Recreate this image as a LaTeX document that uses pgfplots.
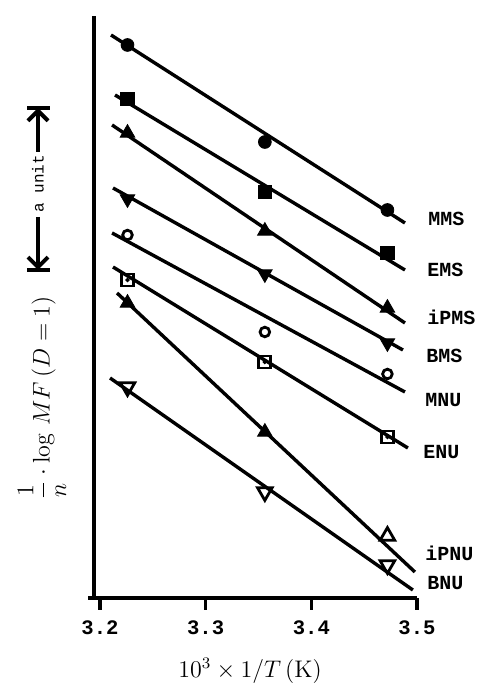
\documentclass[border=0pt]{standalone}
\usepackage{fontspec}
\setmonofont{Liberation Mono}
\usepackage{amsmath}
\usepackage{pgfplots}
\pgfplotsset{compat=1.18}
\usetikzlibrary{arrows.meta}
\begin{document}
\begin{tikzpicture}
\useasboundingbox (0,0) rectangle (238pt,344pt);
\begin{axis}[
  at={(47pt,45pt)}, anchor=south west,
  scale only axis, width=161.5pt, height=291pt,
  xmin=3.1943, xmax=3.5, ymin=90, ymax=672,
  axis x line*=bottom, axis y line*=left,
  axis line style={line width=1.8pt,-},
  xtick={3.2,3.3,3.4,3.5},
  xticklabels={\texttt{\bfseries 3.2},\texttt{\bfseries 3.3},\texttt{\bfseries 3.4},\texttt{\bfseries 3.5}},
  xticklabel style={font=\fontsize{10.3}{12}\selectfont, yshift=-2pt},
  ytick=\empty,
  tick align=outside, major tick length=6pt,
  tick style={line width=1.6pt, black},
  clip=false,
  every axis plot/.append style={black},
]
% fitted lines
\addplot[line width=1.7pt] coordinates {(3.2104,653) (3.4886,465)};
\addplot[line width=1.7pt] coordinates {(3.2142,593) (3.4886,418)};
\addplot[line width=1.7pt] coordinates {(3.2114,563) (3.4886,365)};
\addplot[line width=1.7pt] coordinates {(3.2123,500) (3.4867,338)};
\addplot[line width=1.7pt] coordinates {(3.2114,455) (3.4886,296)};
\addplot[line width=1.7pt] coordinates {(3.2123,421) (3.4914,240)};
\addplot[line width=1.7pt] coordinates {(3.2161,395) (3.4980,116)};
\addplot[line width=1.7pt] coordinates {(3.2095,310) (3.4961,98)};
% MMS
\addplot[only marks, mark=*, mark size=3.2pt] coordinates {(3.226,643) (3.356,546) (3.472,478)};
% EMS
\addplot[only marks, mark=square*, mark size=3.4pt] coordinates {(3.226,589) (3.356,496) (3.472,435)};
% iPMS
\addplot[only marks, mark=triangle*, mark size=4.2pt] coordinates {(3.226,555) (3.356,457) (3.472,380)};
% BMS
\addplot[only marks, mark=triangle*, mark size=4.2pt, mark options={rotate=180}] coordinates {(3.226,489) (3.356,414) (3.472,345)};
% MNU
\addplot[only marks, mark=o, mark size=2.4pt, mark options={line width=1.4pt}] coordinates {(3.226,453) (3.356,356) (3.472,314)};
% ENU
\addplot[only marks, mark=square, mark size=3pt, mark options={line width=1.4pt, fill=white}] coordinates {(3.226,408) (3.356,326) (3.472,251)};
\addplot[only marks, mark=*, mark size=0.9pt] coordinates {(3.226,408) (3.356,326) (3.472,251)};
% iPNU
\addplot[only marks, mark=triangle*, mark size=4.2pt] coordinates {(3.226,385) (3.356,256)};
\addplot[only marks, mark=triangle, mark size=4.2pt, mark options={line width=1.4pt, fill=white}] coordinates {(3.472,152)};
% BNU
\addplot[only marks, mark=triangle, mark size=4.2pt, mark options={line width=1.4pt, fill=white, rotate=180}] coordinates {(3.226,301) (3.356,196) (3.472,123)};
% series labels
\begin{scope}[every node/.style={anchor=west, inner sep=0pt, font=\fontsize{10}{12}\selectfont\ttfamily\bfseries}]
\node at (axis cs:3.5103,469) {MMS};
\node at (axis cs:3.5094,418) {EMS};
\node at (axis cs:3.5094,371) {iPMS};
\node at (axis cs:3.5084,332) {BMS};
\node at (axis cs:3.5075,288) {MNU};
\node at (axis cs:3.5056,236) {ENU};
\node at (axis cs:3.5075,135) {iPNU};
\node at (axis cs:3.5094,105) {BNU};
\end{scope}
\end{axis}
\draw[line width=1.8pt] (44pt,45pt) -- (47pt,45pt);
% x label
\node at (125pt,8.5pt) {\large $10^3\times 1/T\,(\mathrm{K})$};
% y label
\node[rotate=90] at (21pt,145pt) {\large $\dfrac{1}{n}\cdot\log\, MF\,(D=1)$};
% a unit arrow
\draw[line width=2pt, -{Straight Barb[length=5pt,width=10pt,line width=2pt]}] (19pt,268pt) -- (19pt,290pt);
\draw[line width=2pt] (13.5pt,290pt) -- (25pt,290pt);
\draw[line width=2pt, -{Straight Barb[length=5pt,width=10pt,line width=2pt]}] (19pt,235.5pt) -- (19pt,209pt);
\draw[line width=2pt] (13.5pt,209pt) -- (25pt,209pt);
\node[rotate=90, inner sep=0pt] at (19pt,252pt) {\fontsize{8}{9}\selectfont\ttfamily a unit};
\end{tikzpicture}
\end{document}
